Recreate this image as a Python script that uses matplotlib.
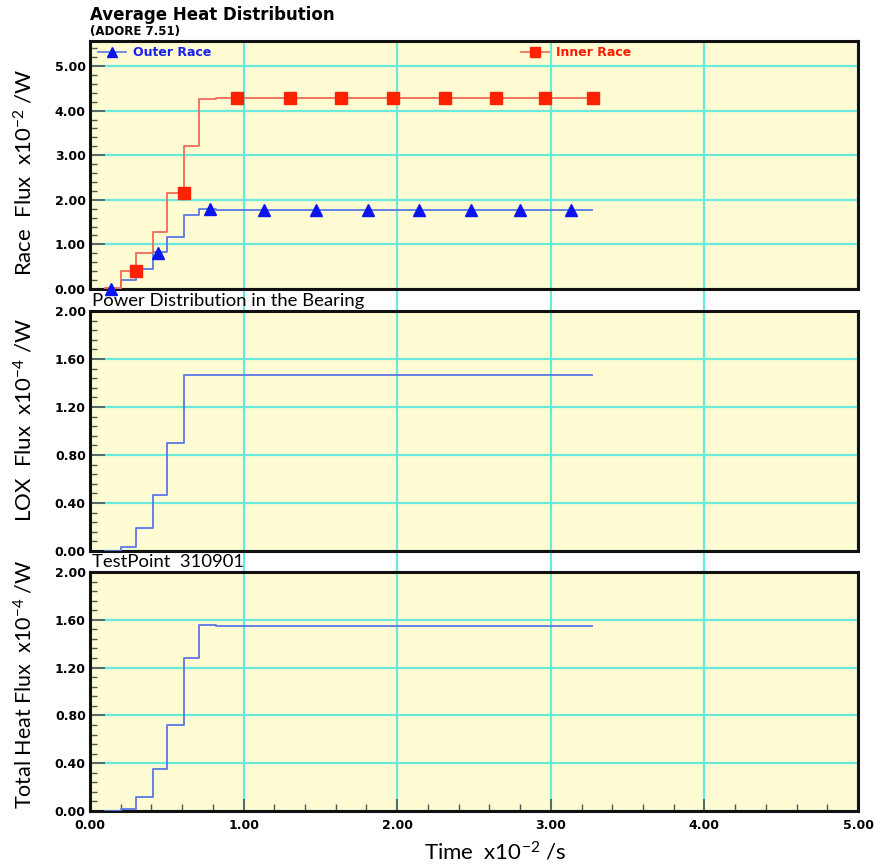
import matplotlib
matplotlib.use("Agg")
import matplotlib.pyplot as plt
from matplotlib.lines import Line2D
from matplotlib.ticker import MultipleLocator, FormatStrFormatter
import matplotlib.transforms as mtransforms

plt.rcParams["mathtext.default"] = "regular"

# ---- data (time in 1e-2 s) ----
time = [0.10, 0.20, 0.30, 0.41, 0.50, 0.61, 0.71, 0.82, 3.27]
outer_race = [0.00, 0.20, 0.45, 0.83, 1.17, 1.67, 1.79, 1.78, 1.78]
inner_race = [0.03, 0.41, 0.80, 1.28, 2.15, 3.20, 4.26, 4.29, 4.29]
lox_flux = [0.00, 0.03, 0.19, 0.465, 0.90, 1.47, 1.47, 1.465, 1.465]
total_flux = [0.00, 0.02, 0.12, 0.35, 0.72, 1.28, 1.556, 1.55, 1.55]

outer_mark_t = [0.135, 0.445, 0.78, 1.13, 1.47, 1.81, 2.14, 2.48, 2.80, 3.13]
outer_mark_v = [0.00, 0.81, 1.79, 1.78, 1.78, 1.78, 1.78, 1.78, 1.78, 1.78]
inner_mark_t = [0.30, 0.61, 0.955, 1.30, 1.635, 1.975, 2.31, 2.64, 2.965, 3.275]
inner_mark_v = [0.41, 2.15, 4.29, 4.29, 4.28, 4.28, 4.28, 4.28, 4.28, 4.28]

BG = "#fffcd4"
GRID = "#6aeadc"
BLUE_LINE = "#5a78e6"
BLUE_MARK = "#0a14f0"
RED_LINE = "#f26a58"
RED_MARK = "#ff2200"
LABEL_FONT = ["Lato", "DejaVu Sans"]

W, H = 875, 867
fig = plt.figure(figsize=(W / 100, H / 100), dpi=100)


def px_axes(left, top, right, bottom):
    return fig.add_axes([left / W, 1 - bottom / H, (right - left) / W, (bottom - top) / H])


ax1 = px_axes(90, 41, 858, 289)
ax2 = px_axes(90, 311, 858, 551)
ax3 = px_axes(90, 572, 858, 811)
axes = [ax1, ax2, ax3]

for ax in axes:
    ax.set_facecolor(BG)
    ax.set_xlim(0, 5)
    ax.xaxis.set_major_locator(MultipleLocator(1))
    ax.xaxis.set_minor_locator(MultipleLocator(0.2))
    ax.grid(True, which="major", color=GRID, linewidth=1.6, zorder=0)
    for s in ax.spines.values():
        s.set_linewidth(2.2)
        s.set_color("#111111")
    ax.tick_params(axis="y", which="major", direction="in", length=11, width=1.2,
                   color="#555555", labelsize=9, pad=3)
    ax.tick_params(axis="y", which="minor", direction="in", length=5, width=1,
                   color="#555555")
    ax.yaxis.set_major_formatter(FormatStrFormatter("%.2f"))
    ax.set_axisbelow(True)

# top panel: race fluxes
ax1.set_ylim(0, 5.56)
ax1.yaxis.set_major_locator(MultipleLocator(1))
ax1.yaxis.set_minor_locator(MultipleLocator(0.2))
ax1.set_yticks([0, 1, 2, 3, 4, 5])
ax1.step(time, outer_race, where="post", color=BLUE_LINE, linewidth=1.3, zorder=3)
ax1.step(time, inner_race, where="post", color=RED_LINE, linewidth=1.3, zorder=3)
ax1.plot(outer_mark_t, outer_mark_v, linestyle="none", marker="^", markersize=8,
         color=BLUE_MARK, zorder=4, clip_on=False)
ax1.plot(inner_mark_t, inner_mark_v, linestyle="none", marker="s", markersize=8,
         color=RED_MARK, zorder=4, clip_on=False)

h_out = Line2D([], [], color=BLUE_LINE, linewidth=1.2, marker="^", markersize=7,
               markerfacecolor=BLUE_MARK, markeredgecolor=BLUE_MARK)
h_in = Line2D([], [], color=RED_LINE, linewidth=1.2, marker="s", markersize=7,
              markerfacecolor=RED_MARK, markeredgecolor=RED_MARK)
leg1 = ax1.legend([h_out], ["Outer Race"], loc="upper left", bbox_to_anchor=(-0.004, 1.025),
                  frameon=False, handlelength=2.2, handletextpad=0.6,
                  prop={"weight": "bold", "size": 9})
leg1.get_texts()[0].set_color("#1a1ef0")
ax1.add_artist(leg1)
leg2 = ax1.legend([h_in], ["Inner Race"], loc="upper left", bbox_to_anchor=(0.547, 1.025),
                  frameon=False, handlelength=2.2, handletextpad=0.6,
                  prop={"weight": "bold", "size": 9})
leg2.get_texts()[0].set_color("#ff1a00")

# middle panel: LOX flux
ax2.set_ylim(0, 2.0)
ax2.yaxis.set_major_locator(MultipleLocator(0.4))
ax2.yaxis.set_minor_locator(MultipleLocator(0.08))
ax2.step(time, lox_flux, where="post", color=BLUE_LINE, linewidth=1.3, zorder=3)

# bottom panel: total heat flux
ax3.set_ylim(0, 2.0)
ax3.yaxis.set_major_locator(MultipleLocator(0.4))
ax3.yaxis.set_minor_locator(MultipleLocator(0.08))
ax3.step(time, total_flux, where="post", color=BLUE_LINE, linewidth=1.3, zorder=3)

for ax in (ax1, ax2):
    ax.tick_params(axis="x", which="both", bottom=False, labelbottom=False)
ax3.tick_params(axis="x", which="major", direction="in", length=9, width=1.2,
                color="#555555", labelsize=9, pad=6)
ax3.tick_params(axis="x", which="minor", direction="in", length=5, width=1,
                color="#555555")
ax3.xaxis.set_major_formatter(FormatStrFormatter("%.2f"))
for ax in axes:
    for lab in ax.get_yticklabels() + ax.get_xticklabels():
        lab.set_fontweight("bold")

# vertical grid continues through the gaps between panels
trans = mtransforms.blended_transform_factory(ax1.transData, fig.transFigure)
for xv in [1, 2, 3, 4]:
    for top, bottom in [(289, 311), (551, 572)]:
        fig.add_artist(Line2D([xv, xv], [1 - bottom / H, 1 - top / H], transform=trans,
                              color=GRID, linewidth=1.6, zorder=0))

# titles and labels
fig.text(90 / W, 1 - 20 / H, "Average Heat Distribution", fontsize=12, fontweight="bold",
         va="baseline", ha="left")
fig.text(90 / W, 1 - 35 / H, "(ADORE 7.51)", fontsize=8.5, fontweight="bold",
         va="baseline", ha="left")
fig.text(92 / W, 1 - 306 / H, "Power Distribution in the Bearing", fontsize=13.3,
         family=LABEL_FONT, va="baseline", ha="left")
fig.text(92 / W, 1 - 567 / H, "TestPoint  310901", fontsize=13.3,
         family=LABEL_FONT, va="baseline", ha="left")

fig.text(24 / W, 1 - 172 / H, "Race  Flux  x10$^{-2}$ /W", fontsize=16, family=LABEL_FONT,
         rotation=90, ha="center", va="center")
fig.text(24 / W, 1 - 420 / H, "LOX  Flux  x10$^{-4}$ /W", fontsize=16, family=LABEL_FONT,
         rotation=90, ha="center", va="center")
fig.text(24 / W, 1 - 684 / H, "Total Heat Flux  x10$^{-4}$ /W", fontsize=15.5,
         family=LABEL_FONT, rotation=90, ha="center", va="center")
fig.text(495 / W, 1 - 852 / H, "Time  x10$^{-2}$ /s", fontsize=16, family=LABEL_FONT,
         ha="center", va="center")

fig.savefig("out.png", dpi=100, facecolor="white")
